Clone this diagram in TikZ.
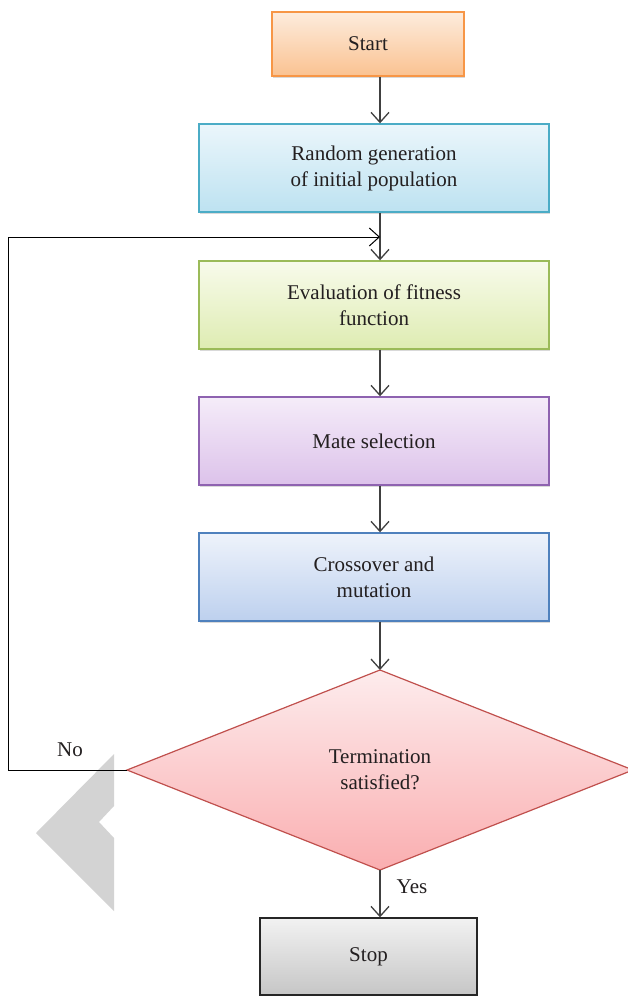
\documentclass[tikz,border=0pt]{standalone}
\usepackage{fontspec}
\setmainfont{Liberation Serif}
\usetikzlibrary{shapes.geometric,arrows.meta,shadows}

% fills (top / bottom) and borders
\definecolor{startT}{HTML}{FDECDD}\definecolor{startB}{HTML}{FAC291}\definecolor{startD}{HTML}{F79646}
\definecolor{randT}{HTML}{EBF6FB}\definecolor{randB}{HTML}{BDE2F1}\definecolor{randD}{HTML}{4BACC6}
\definecolor{evalT}{HTML}{F8FBEB}\definecolor{evalB}{HTML}{DEECB2}\definecolor{evalD}{HTML}{9BBB59}
\definecolor{mateT}{HTML}{F5ECF9}\definecolor{mateB}{HTML}{DCC2EA}\definecolor{mateD}{HTML}{8E62B0}
\definecolor{crossT}{HTML}{EEF3FB}\definecolor{crossB}{HTML}{BDD0EE}\definecolor{crossD}{HTML}{4F81BD}
\definecolor{decT}{HTML}{FDECED}\definecolor{decB}{HTML}{FAAEB0}\definecolor{decD}{HTML}{C0504D}
\definecolor{stopT}{HTML}{F2F2F2}\definecolor{stopB}{HTML}{C6C6C6}\definecolor{stopD}{HTML}{262626}
\definecolor{txt}{HTML}{231F20}
\definecolor{arrowgray}{HTML}{404040}
\definecolor{chev}{HTML}{D3D3D3}

\begin{document}
\begin{tikzpicture}[x=1pt,y=-1pt,
  lbl/.style={text=txt, font=\fontsize{21}{26}\selectfont, align=center},
  box/.style={lbl, rectangle, line width=1.4pt, inner sep=0pt,
    drop shadow={shadow xshift=1pt, shadow yshift=-1.5pt, opacity=0.3}},
  wide/.style={box, minimum width=350pt, minimum height=88pt},
  flow/.style={draw=arrowgray, line width=1.3pt,
    -{Straight Barb[length=10pt,width=18pt]}},
  loopline/.style={draw=black, line width=1pt,
    -{Straight Barb[length=10pt,width=18pt]}}
]
\useasboundingbox (0,0) rectangle (628,996);

% grey chevron mark
\fill[chev] (114,754) -- (36,833) -- (114,911) -- (114,838) -- (99,822) -- (114,806) -- cycle;

% process steps
\node[box, minimum width=192pt, minimum height=64pt,
      draw=startD, top color=startT, bottom color=startB] (start) at (368,44) {Start};
\node[wide, draw=randD, top color=randT, bottom color=randB] (rand) at (374,168)
      {Random generation\\of initial population};
\node[wide, draw=evalD, top color=evalT, bottom color=evalB] (eval) at (374,305)
      {Evaluation of fitness\\function};
\node[wide, draw=mateD, top color=mateT, bottom color=mateB] (mate) at (374,441)
      {Mate selection};
\node[wide, draw=crossD, top color=crossT, bottom color=crossB] (cross) at (374,577)
      {Crossover and\\mutation};
\node[lbl, diamond, aspect=2.53, inner sep=0pt, outer sep=0pt, line width=1.2pt,
      minimum width=506pt, minimum height=200pt,
      draw=decD, top color=decT, bottom color=decB] (dec) at (380,770)
      {Termination\\satisfied?};
\node[box, minimum width=217pt, minimum height=77pt,
      draw=stopD, top color=stopT, bottom color=stopB] (stop) at (368.5,956.5) {Stop};

% connectors
\draw[flow] (start.south -| dec.north) -- (rand.north -| dec.north);
\draw[flow] (rand.south -| dec.north) -- (eval.north -| dec.north);
\draw[flow] (eval.south -| dec.north) -- (mate.north -| dec.north);
\draw[flow] (mate.south -| dec.north) -- (cross.north -| dec.north);
\draw[flow] (cross.south -| dec.north) -- (dec.north);
\draw[flow] (dec.south) -- (stop.north -| dec.south);

% feedback loop
\coordinate (lc) at (8,237);
\draw[loopline] (dec.west) -- (dec.west -| lc) -- (lc) -- (lc -| dec.north);

\node[lbl] (no) at (70,750) {No};
\node[lbl] (yes) at (412,887) {Yes};
\end{tikzpicture}
\end{document}
